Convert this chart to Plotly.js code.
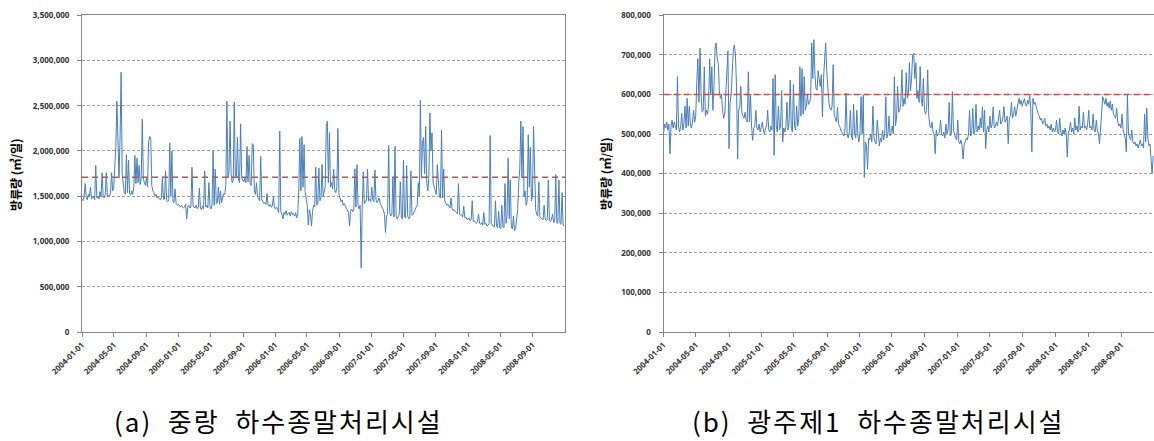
<!DOCTYPE html>
<html>
<head>
<meta charset="utf-8">
<script src="https://cdn.plot.ly/plotly-3.0.1.min.js"></script>
<style>
html,body{margin:0;padding:0;background:#fff;}
#chart{width:1154px;height:441px;}
</style>
</head>
<body>
<div id="chart"></div>
<script>
// Daily discharge, sampled every 4 days from 2004-01-01 (unit: thousand m3/day)
const startDate = '2004-01-01';
const stepDays = 4;

const jungnangFlow = [
1470,1450,1500,1640,1480,1460,1520,1490,1600,1470,
1480,1500,1460,1840,1480,1500,1470,1550,1490,1760,
1500,1480,1520,1760,1490,1510,1500,1540,1760,1560,
1600,1800,2050,2550,2180,1700,2150,2870,1750,1600,
1540,1520,1960,1540,1900,1530,1510,1560,1520,1600,
1950,1640,1920,1650,1840,1630,1700,2350,1700,1650,
1620,1700,1600,2100,2160,2130,1620,1560,1540,1500,
1520,1480,1490,1470,1460,1480,1700,1460,1470,1780,
1450,1440,1460,2090,1500,2000,1440,1430,1580,1420,
1400,1410,1390,1380,1400,1390,1370,1380,1410,1250,
1380,1400,1370,1380,1820,1390,1380,1370,1400,1360,
1380,1590,1370,1350,1390,1360,1780,1380,1400,1370,
1650,1390,1360,1410,2000,1400,1800,1420,1430,1600,
1410,1560,1430,1480,1530,1520,1620,2550,1700,1780,
2330,1750,1650,1680,2540,1720,1700,2150,1680,1650,
2300,1700,1680,1660,1700,1650,2050,1660,1950,1640,
1620,2080,2070,1560,1520,1650,1490,1480,1450,1940,
1460,1440,1420,1430,1410,1530,1400,1390,1410,1380,
1390,1500,1370,1360,1380,1350,1320,2220,1330,1300,
1250,1320,1300,1340,1290,1310,1320,1280,1330,1300,
1310,1280,1320,1260,1300,1580,2140,1560,2160,1600,
2070,1550,1480,1400,1180,1350,1300,1170,1330,1400,
1380,1820,1400,1420,1810,1450,1480,1850,1500,1550,
1600,2270,2330,1650,2200,1600,1650,1580,1800,1560,
1540,1600,2250,1520,1480,1440,1460,1400,1420,1390,
1380,1350,1320,1170,1340,1360,1330,1350,1800,1380,
1850,1400,1360,1400,710,1380,1770,1420,1440,1460,
1800,1450,1470,1440,1600,1460,1440,1790,1460,1430,
1450,1480,1420,1400,1380,1350,1300,1100,1280,1300,
2060,1320,1280,1300,1700,1270,2050,1280,1250,1270,
1300,1660,1260,1250,1900,1270,1260,1840,1280,1250,
1260,1780,1290,1300,1320,1350,1380,1400,1650,1500,
2560,1700,2100,2150,1750,2270,1650,1560,1700,2420,
2000,2200,1650,1600,1550,1520,1850,1700,1500,1480,
2230,1480,1800,1450,1420,1400,1410,1380,1370,1480,
1360,1340,1350,1330,1320,1310,1640,1300,1290,1300,
1270,1390,1260,1270,1250,1240,1260,1230,1240,1450,
1220,1230,1210,1200,1220,1300,1200,1190,1210,1180,
1320,1190,1200,1170,1180,1200,2170,1200,1180,1170,
1160,1450,1170,1150,1330,1160,1140,1400,1160,1150,
1640,1200,1300,1920,1250,1680,1160,1140,1280,1120,
1150,1250,1350,1650,1800,2330,1700,2270,1500,1560,
1400,1450,2180,1600,2040,1450,1500,2270,1780,1350,
1300,1280,1660,1270,1260,1250,1240,1400,1250,1230,
1240,1680,1230,1220,1240,1300,1210,1220,1740,1210,
1200,1680,1200,1190,1540,1180,1170
];

const gwangjuFlow = [
500,525,515,530,510,525,450,520,535,515,
530,520,510,645,520,505,520,552,510,525,
570,515,590,520,570,525,515,530,560,530,
545,630,690,580,717,600,555,560,670,545,
560,550,575,690,600,670,560,620,717,730,
690,680,610,590,600,560,540,550,600,680,
710,463,580,600,660,713,725,700,620,437,
560,570,620,555,545,540,555,535,530,657,
530,600,520,484,515,520,560,515,510,525,
505,515,530,510,500,515,520,560,510,505,
520,510,640,446,650,520,505,570,510,520,
610,480,515,505,520,580,510,530,636,515,
505,625,520,510,570,520,540,670,545,665,
550,645,560,570,600,575,580,590,730,640,
738,650,615,611,660,640,620,650,543,640,
705,730,660,600,580,565,560,570,675,545,
540,530,568,525,520,510,505,500,495,510,
603,500,490,505,560,495,485,575,500,490,
560,495,480,505,594,500,598,390,480,470,
412,490,485,500,480,570,490,480,475,535,
485,470,490,480,510,485,500,594,490,500,
545,495,505,520,500,645,520,540,620,555,
560,580,662,570,590,575,655,590,600,680,
610,640,700,704,640,680,590,610,580,670,
590,570,640,560,550,560,662,545,520,515,
530,505,500,450,510,495,500,505,535,500,
495,505,490,525,500,510,580,495,500,607,
510,495,490,485,535,480,475,485,470,437,
475,480,490,485,500,560,495,505,565,500,
510,575,505,520,510,540,515,569,505,560,
463,510,520,505,545,515,525,569,515,520,
530,520,535,560,525,530,540,569,530,535,
545,475,540,545,580,540,550,569,545,560,
580,590,575,585,570,580,590,575,570,585,
575,598,565,455,590,575,580,570,555,550,
545,535,540,525,530,540,520,525,515,520,
510,525,505,515,505,510,535,505,500,540,
505,495,510,500,515,500,442,505,510,530,
505,515,500,540,510,520,505,570,510,520,
515,555,515,520,510,525,560,515,520,510,
550,510,505,535,510,500,475,510,560,594,
585,575,590,570,580,565,583,560,575,550,
545,540,565,530,520,525,515,550,510,500,
490,455,598,500,490,485,510,480,475,480,
470,475,465,475,485,470,475,465,550,480,
565,490,470,475,445,400,445
];

const flowUnit = 1000;             // values above are in thousands of m3/day
const designCapacity = [1710000, 600000]; // red dashed reference lines
const tickDates = ['2004-01-01','2004-05-01','2004-09-01','2005-01-01','2005-05-01','2005-09-01',
  '2006-01-01','2006-05-01','2006-09-01','2007-01-01','2007-05-01','2007-09-01',
  '2008-01-01','2008-05-01','2008-09-01'];
const xRange = ['2004-01-01','2009-01-01'];
const yMax = [3500000, 800000];
const yStep = [500000, 100000];
const yTitle = '방류량 (㎥/일)';
const captions = ['(a)  중랑  하수종말처리시설', '(b)  광주제1  하수종말처리시설'];

function makeDates(n){
  const t0 = Date.parse(startDate + 'T00:00:00Z');
  const out = [];
  for (let i = 0; i < n; i++) out.push(new Date(t0 + i*stepDays*86400000).toISOString().slice(0,10));
  return out;
}

const lineColor = '#4a7ebb';
const traces = [
  {x: makeDates(jungnangFlow.length), y: jungnangFlow.map(v => v*flowUnit), xaxis:'x', yaxis:'y',
   type:'scatter', mode:'lines', line:{color:lineColor, width:1}, hoverinfo:'x+y'},
  {x: makeDates(gwangjuFlow.length), y: gwangjuFlow.map(v => v*flowUnit), xaxis:'x2', yaxis:'y2',
   type:'scatter', mode:'lines', line:{color:lineColor, width:1}, hoverinfo:'x+y'}
];

const W = 1154, H = 441;
const yDom = [(H-332)/H, (H-15.2)/H];
const tickFont = {family:'Noto Sans, DejaVu Sans, sans-serif', size:8, color:'#333', weight:700};
function xAxis(dom, anchor){
  return {domain: dom, anchor: anchor, type:'date', range: xRange, tickvals: tickDates,
    ticktext: tickDates, tickangle:-45, tickfont: tickFont, ticks:'outside', ticklen:4,
    tickcolor:'#868686', showline:true, linecolor:'#868686', linewidth:1, mirror:true,
    showgrid:false, zeroline:false, automargin:false};
}
function yAxis(i, anchor){
  return {domain: yDom, anchor: anchor, range:[0, yMax[i]], dtick: yStep[i], tick0:0,
    tickformat:',d', tickfont: tickFont, ticks:'outside', ticklen:4, tickcolor:'#868686',
    ticklabelstandoff:6, showline:true, linecolor:'#868686', linewidth:1, mirror:true,
    showgrid:true, gridcolor:'#a0a0a0', gridwidth:1, griddash:'3px,2px', zeroline:false,
    automargin:false};
}

const capFont = {family:'Noto Sans CJK KR, sans-serif', size:26, color:'#000'};
const titleFont = {family:'Noto Sans CJK KR, sans-serif', size:12, color:'#000', weight:700};
const layout = {
  width: W, height: H, margin:{l:0,r:0,t:0,b:0}, showlegend:false,
  paper_bgcolor:'#fff', plot_bgcolor:'#fff',
  xaxis: xAxis([82/W, 565/W], 'y'),
  yaxis: yAxis(0, 'x'),
  xaxis2: xAxis([663.5/W, 1], 'y2'),
  yaxis2: yAxis(1, 'x2'),
  shapes: [
    {type:'line', xref:'x domain', yref:'y', x0:0, x1:1, y0:designCapacity[0], y1:designCapacity[0],
     line:{color:'#c0504d', width:1.5, dash:'6px,4px'}},
    {type:'line', xref:'x2 domain', yref:'y2', x0:0, x1:1, y0:designCapacity[1], y1:designCapacity[1],
     line:{color:'#c0504d', width:1.5, dash:'6px,4px'}}
  ],
  annotations: [
    {text: yTitle, xref:'paper', yref:'paper', x:15/W, y:(H-175)/H, xanchor:'center', yanchor:'middle',
     textangle:-90, showarrow:false, font: titleFont},
    {text: yTitle, xref:'paper', yref:'paper', x:605/W, y:(H-174)/H, xanchor:'center', yanchor:'middle',
     textangle:-90, showarrow:false, font: titleFont},
    {text: captions[0], xref:'paper', yref:'paper', x:278/W, y:(H-420)/H, xanchor:'center', yanchor:'middle',
     showarrow:false, font: capFont},
    {text: captions[1], xref:'paper', yref:'paper', x:878/W, y:(H-420)/H, xanchor:'center', yanchor:'middle',
     showarrow:false, font: capFont}
  ]
};

Plotly.newPlot('chart', traces, layout, {staticPlot:true, displayModeBar:false}).then(gd => {
  // caption letter spacing, similar to the original's wide gothic type
  gd.querySelectorAll('.annotation-text').forEach(t => {
    if (t.textContent.indexOf('하수') >= 0) t.style.letterSpacing = '2px';
  });
});
</script>
</body>
</html>
